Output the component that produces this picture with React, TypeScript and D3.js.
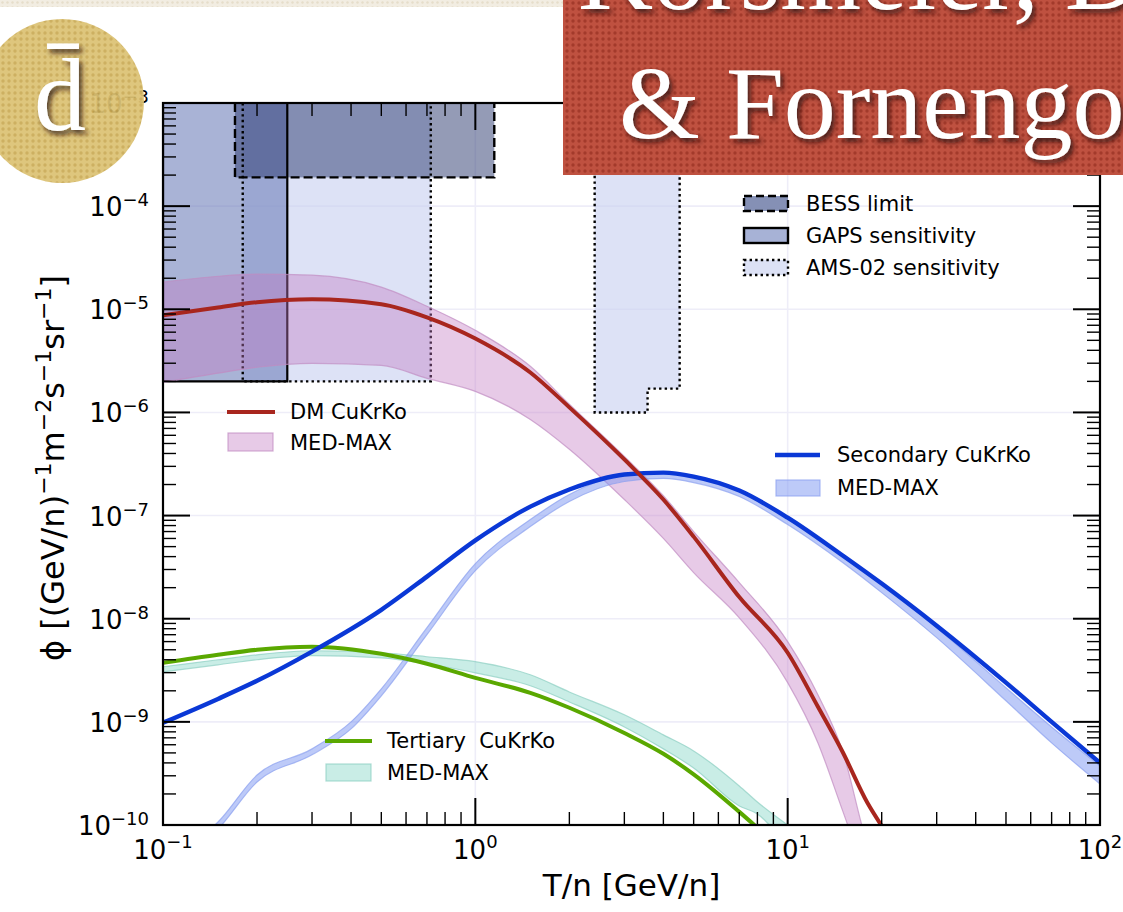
import React from 'react';
import * as d3 from 'd3';

// ---------- data ----------
// kinetic energy per nucleon, GeV/n
const dmT = [0.1, 0.15, 0.2, 0.3, 0.5, 0.7, 1, 1.5, 2, 3, 4, 5, 7, 10, 12.5, 15, 18, 20];
// DM (CuKrKo) antideuteron flux and its MED-MAX propagation band
const dmFlux = [8.75e-6, 1.04e-5, 1.17e-5, 1.25e-5, 1.12e-5, 8.35e-6, 5.2e-6, 2.44e-6, 1.12e-6, 3.5e-7, 1.43e-7, 6.25e-8, 1.62e-8, 4.68e-9, 1.4e-9, 5.1e-10, 1.64e-10, 9.8e-11];
const dmHigh = [1.83e-5, 2.09e-5, 2.19e-5, 2.14e-5, 1.64e-5, 1.07e-5, 6.25e-6, 2.8e-6, 1.2e-6, 3.74e-7, 1.56e-7, 7e-8, 2.24e-8, 6e-9, 1.83e-9, 5.2e-10, 6.5e-11, 3e-11];
const dmLow = [1.95e-6, 2.4e-6, 2.74e-6, 2.99e-6, 2.86e-6, 2.14e-6, 1.6e-6, 8.55e-7, 4.4e-7, 1.43e-7, 6e-8, 2.8e-8, 1.02e-8, 2.4e-9, 6.25e-10, 1.37e-10, 3e-11, 1.5e-11];

// secondary flux
const secT = [0.1, 0.15, 0.2, 0.3, 0.5, 0.7, 1, 1.5, 2, 3, 4, 5, 7, 10, 15, 20, 30, 50, 70, 100];
const secFlux = [9.8e-10, 1.67e-9, 2.5e-9, 4.8e-9, 1.22e-8, 2.56e-8, 5.75e-8, 1.22e-7, 1.79e-7, 2.5e-7, 2.61e-7, 2.39e-7, 1.75e-7, 9.55e-8, 4.1e-8, 2.19e-8, 8.55e-9, 2.4e-9, 1.0e-9, 4.0e-10];
const secBandT = [0.1, 0.15, 0.2, 0.3, 0.4, 0.5, 0.7, 1, 1.5, 2, 3, 4, 5, 7, 10, 15, 20, 30, 50, 70, 100];
const secHigh = [4.57e-11, 1.07e-10, 3.05e-10, 5.47e-10, 1.0e-9, 2.09e-9, 8.18e-9, 3.42e-8, 9.14e-8, 1.6e-7, 2.5e-7, 2.67e-7, 2.44e-7, 1.79e-7, 9.57e-8, 4.09e-8, 2.14e-8, 8.18e-9, 2.14e-9, 8.93e-10, 3.74e-10];
const secLow = [3.8e-11, 9.14e-11, 2.61e-10, 4.79e-10, 8.55e-10, 1.79e-9, 7.0e-9, 2.92e-8, 7.82e-8, 1.37e-7, 2.14e-7, 2.29e-7, 2.09e-7, 1.53e-7, 8.18e-8, 3.5e-8, 1.79e-8, 6.55e-9, 1.6e-9, 6.25e-10, 2.5e-10];

// tertiary flux
const terT = [0.1, 0.15, 0.2, 0.3, 0.5, 0.7, 1, 1.5, 2, 3, 4, 5, 7, 8];
const terFlux = [3.74e-9, 4.47e-9, 5.0e-9, 5.35e-9, 4.57e-9, 3.66e-9, 2.67e-9, 1.91e-9, 1.37e-9, 7.8e-10, 4.9e-10, 3.1e-10, 1.34e-10, 9.4e-11];
const terBandT = [0.1, 0.15, 0.2, 0.3, 0.5, 0.7, 1, 1.5, 2, 3, 4, 5, 7, 8, 10];
const terHigh = [3.42e-9, 4.0e-9, 4.47e-9, 4.89e-9, 4.68e-9, 4.28e-9, 3.83e-9, 2.86e-9, 1.95e-9, 1.17e-9, 7.48e-10, 5.23e-10, 2.39e-10, 1.67e-10, 1.0e-10];
const terLow = [3.05e-9, 3.57e-9, 4.0e-9, 4.38e-9, 4.18e-9, 3.66e-9, 2.99e-9, 2.24e-9, 1.56e-9, 8.93e-10, 5.47e-10, 3.57e-10, 1.53e-10, 1.28e-10, 6e-11];

// experimental limits / sensitivities: [Tmin, Tmax, flux]
const bessLimit = [[0.17, 1.15, 1.9e-4]];
const gapsSens = [[0.1, 0.25, 2.0e-6]];
const amsLowBox = [0.18, 0.72, 2.0e-6];
const amsHighSteps = [[2.41, 3.56, 1.0e-6], [3.56, 4.51, 1.7e-6]];

const xMajor = [0.1, 1, 10, 100];
const xMajorExp = ['\u22121', '0', '1', '2'];
const yMajorExp = [-10, -9, -8, -7, -6, -5, -4, -3];

// ---------- layout ----------
const W = 1123;
const H = 912;
const L = 163, R = 1100, T0 = 103, B = 825;

const x = d3.scaleLog().domain([0.1, 100]).range([L, R]);
const y = d3.scaleLog().domain([1e-10, 1e-3]).range([B, T0]);

const zip = (ts: number[], vs: number[]) => ts.map((t, i) => [t, vs[i]] as [number, number]);
const zip3 = (ts: number[], lo: number[], hi: number[]) =>
  ts.map((t, i) => [t, lo[i], hi[i]] as [number, number, number]);

const curve = d3.curveMonotoneX;

const lineGen = d3
  .line<[number, number]>()
  .x((d) => x(d[0]))
  .y((d) => y(d[1]))
  .curve(curve);

const areaGen = d3
  .area<[number, number, number]>()
  .x((d) => x(d[0]))
  .y0((d) => y(d[1]))
  .y1((d) => y(d[2]))
  .curve(curve);

const edgeGen = (idx: 1 | 2) =>
  d3
    .line<[number, number, number]>()
    .x((d) => x(d[0]))
    .y((d) => y(d[idx]))
    .curve(curve);

const minorX: number[] = [];
for (let e = -1; e < 2; e++) for (let k = 2; k <= 9; k++) minorX.push(k * Math.pow(10, e));
const minorY: number[] = [];
for (let e = -10; e < -3; e++) for (let k = 2; k <= 9; k++) minorY.push(k * Math.pow(10, e));

const FONT = 'DejaVu Sans, sans-serif';
const SERIF = 'Liberation Serif, DejaVu Serif, serif';

const RED = '#a8261e';
const BLUE = '#0a38d6';
const GREEN = '#5aa800';

function Band({ data, fill, edge, op }: { data: [number, number, number][]; fill: string; edge: string; op: number }) {
  return (
    <g>
      <path d={areaGen(data) || ''} fill={fill} fillOpacity={op} stroke="none" />
      <path d={edgeGen(1)(data) || ''} fill="none" stroke={edge} strokeWidth={1.2} strokeOpacity={0.7} />
      <path d={edgeGen(2)(data) || ''} fill="none" stroke={edge} strokeWidth={1.2} strokeOpacity={0.7} />
    </g>
  );
}

export default function App() {
  const dmBand = zip3(dmT, dmLow, dmHigh);
  const secBand = zip3(secBandT, secLow, secHigh);
  const terBand = zip3(terBandT, terLow, terHigh);

  const boxTop = y(1e-3);

  // AMS-02 high-energy region outline (stepped bottom)
  const [s1, s2] = amsHighSteps;
  const amsHighPath =
    `M${x(s1[0])},${boxTop} L${x(s1[0])},${y(s1[2])} L${x(s1[1])},${y(s1[2])} ` +
    `L${x(s2[0])},${y(s2[2])} L${x(s2[1])},${y(s2[2])} L${x(s2[1])},${boxTop}`;

  const sup = (s: string, key: string) => (
    <tspan key={key} fontSize={22} dy={-13}>
      {s}
    </tspan>
  );
  const base = (s: string, key: string) => (
    <tspan key={key} dy={13}>
      {s}
    </tspan>
  );

  return (
    <svg
      width={W}
      height={H}
      viewBox={`0 0 ${W} ${H}`}
      style={{ position: 'absolute', left: 0, top: 0, background: '#fff' }}
      fontFamily={FONT}
    >
      <defs>
        <clipPath id="plot">
          <rect x={L} y={T0} width={R - L} height={B - T0} />
        </clipPath>
        <pattern id="redDots" width={6} height={6} patternUnits="userSpaceOnUse">
          <rect width={6} height={6} fill="#bf5140" />
          <circle cx={3} cy={3} r={1.7} fill="#a33a2b" />
        </pattern>
        <pattern id="goldDots" width={6} height={6} patternUnits="userSpaceOnUse">
          <rect width={6} height={6} fill="#dcc273" />
          <circle cx={3} cy={3} r={1.7} fill="#c9aa55" />
        </pattern>
        <pattern id="beige" width={5} height={5} patternUnits="userSpaceOnUse">
          <rect width={5} height={5} fill="#f2ede2" />
          <circle cx={2.5} cy={2.5} r={1.2} fill="#e6ddca" />
        </pattern>
        <filter id="shadow" x="-20%" y="-20%" width="140%" height="140%">
          <feDropShadow dx={3} dy={4} stdDeviation={2.5} floodColor="#2a0f08" floodOpacity={0.75} />
        </filter>
      </defs>

      <rect x={0} y={0} width={W} height={H} fill="#fff" />

      {/* grid */}
      <g stroke="#eeedf8" strokeWidth={1.6}>
        {xMajor.map((v) => (
          <line key={'gx' + v} x1={x(v)} x2={x(v)} y1={T0} y2={B} />
        ))}
        {yMajorExp.map((e) => (
          <line key={'gy' + e} x1={L} x2={R} y1={y(Math.pow(10, e))} y2={y(Math.pow(10, e))} />
        ))}
      </g>

      <g clipPath="url(#plot)">
        {/* AMS-02 sensitivity */}
        <rect
          x={x(amsLowBox[0])}
          y={boxTop}
          width={x(amsLowBox[1]) - x(amsLowBox[0])}
          height={y(amsLowBox[2]) - boxTop}
          fill="#c8d0f0"
          fillOpacity={0.62}
        />
        <path d={amsHighPath + ' Z'} fill="#c8d0f0" fillOpacity={0.62} stroke="none" />

        {/* GAPS sensitivity */}
        {gapsSens.map((g, i) => (
          <rect
            key={'g' + i}
            x={x(g[0])}
            y={boxTop}
            width={x(g[1]) - x(g[0])}
            height={y(g[2]) - boxTop}
            fill="#6a7cb8"
            fillOpacity={0.58}
          />
        ))}

        {/* BESS limit */}
        {bessLimit.map((b, i) => (
          <rect
            key={'b' + i}
            x={x(b[0])}
            y={boxTop}
            width={x(b[1]) - x(b[0])}
            height={y(b[2]) - boxTop}
            fill="#29386e"
            fillOpacity={0.5}
          />
        ))}

        {/* outlines */}
        <path
          d={`M${x(amsLowBox[0])},${boxTop} V${y(amsLowBox[2])} H${x(amsLowBox[1])} V${boxTop}`}
          fill="none"
          stroke="#000"
          strokeWidth={2.4}
          strokeDasharray="2.4 3.2"
        />
        <path d={amsHighPath} fill="none" stroke="#000" strokeWidth={2.4} strokeDasharray="2.4 3.2" />
        {gapsSens.map((g, i) => (
          <path
            key={'go' + i}
            d={`M${x(g[0])},${boxTop} V${y(g[2])} H${x(g[1])} V${boxTop}`}
            fill="none"
            stroke="#000"
            strokeWidth={2.2}
          />
        ))}
        {bessLimit.map((b, i) => (
          <path
            key={'bo' + i}
            d={`M${x(b[0])},${boxTop} V${y(b[2])} H${x(b[1])} V${boxTop}`}
            fill="none"
            stroke="#000"
            strokeWidth={2.4}
            strokeDasharray="9 4"
          />
        ))}

        {/* MED-MAX bands */}
        <Band data={dmBand} fill="#c27ac4" edge="#c08cc2" op={0.4} />
        <Band data={terBand} fill="#7fd3c3" edge="#8ccfc2" op={0.42} />
        <Band data={secBand} fill="#7c95f2" edge="#8aa0f0" op={0.5} />

        {/* CuKrKo fluxes */}
        <path d={lineGen(zip(terT, terFlux)) || ''} fill="none" stroke={GREEN} strokeWidth={4} />
        <path d={lineGen(zip(secT, secFlux)) || ''} fill="none" stroke={BLUE} strokeWidth={4.4} />
        <path d={lineGen(zip(dmT, dmFlux)) || ''} fill="none" stroke={RED} strokeWidth={4} />
      </g>

      {/* frame */}
      <rect x={L} y={T0} width={R - L} height={B - T0} fill="none" stroke="#000" strokeWidth={2.2} />

      {/* ticks */}
      <g stroke="#000">
        {xMajor.map((v) => (
          <g key={'tx' + v} strokeWidth={2}>
            <line x1={x(v)} x2={x(v)} y1={B} y2={B - 27} />
            <line x1={x(v)} x2={x(v)} y1={T0} y2={T0 + 27} />
          </g>
        ))}
        {minorX.map((v) => (
          <g key={'mx' + v} strokeWidth={1.4}>
            <line x1={x(v)} x2={x(v)} y1={B} y2={B - 13} />
            <line x1={x(v)} x2={x(v)} y1={T0} y2={T0 + 13} />
          </g>
        ))}
        {yMajorExp.map((e) => (
          <g key={'ty' + e} strokeWidth={2}>
            <line x1={L} x2={L + 27} y1={y(Math.pow(10, e))} y2={y(Math.pow(10, e))} />
            <line x1={R} x2={R - 27} y1={y(Math.pow(10, e))} y2={y(Math.pow(10, e))} />
          </g>
        ))}
        {minorY.map((v) => (
          <g key={'my' + v} strokeWidth={1.4}>
            <line x1={L} x2={L + 13} y1={y(v)} y2={y(v)} />
            <line x1={R} x2={R - 13} y1={y(v)} y2={y(v)} />
          </g>
        ))}
      </g>

      {/* tick labels */}
      <g fill="#000" fontSize={26}>
        {xMajor.map((v, i) => (
          <text key={'lx' + v} x={x(v)} y={859} textAnchor="middle">
            10<tspan fontSize={18} dy={-11}>{xMajorExp[i]}</tspan>
          </text>
        ))}
        {yMajorExp.map((e) => (
          <text key={'ly' + e} x={149} y={y(Math.pow(10, e)) + 10} textAnchor="end">
            10<tspan fontSize={18} dy={-10}>{'\u2212' + Math.abs(e)}</tspan>
          </text>
        ))}
      </g>

      {/* axis titles */}
      <text x={(L + R) / 2} y={896} textAnchor="middle" fontSize={31}>
        T/n [GeV/n]
      </text>
      <text transform="translate(64,468) rotate(-90)" textAnchor="middle" fontSize={32}>
        {'\u03d5 [(GeV/n)'}
        {sup('\u22121', 'a')}
        {base('m', 'b')}
        {sup('\u22122', 'c')}
        {base('s', 'd')}
        {sup('\u22121', 'e')}
        {base('sr', 'f')}
        {sup('\u22121', 'g')}
        {base(']', 'h')}
      </text>

      {/* legend: experiments */}
      <g fontSize={21} fill="#000">
        <rect x={744} y={196} width={44} height={15} fill="#8590b5" stroke="#000" strokeWidth={2.4} strokeDasharray="8 4" />
        <text x={806} y={211}>BESS limit</text>
        <rect x={744} y={228} width={44} height={15} fill="#a7b2d6" stroke="#000" strokeWidth={2.4} />
        <text x={806} y={243}>GAPS sensitivity</text>
        <rect x={744} y={260} width={44} height={15} fill="#dce1f5" stroke="#000" strokeWidth={2.4} strokeDasharray="2.4 3.2" />
        <text x={806} y={275}>AMS-02 sensitivity</text>
      </g>

      {/* legend: DM */}
      <g fontSize={21} fill="#000">
        <line x1={227} x2={275} y1={412} y2={412} stroke={RED} strokeWidth={4} />
        <text x={290} y={419}>DM CuKrKo</text>
        <rect x={228} y={433} width={45} height={18} fill="#c27ac4" fillOpacity={0.4} stroke="#c08cc2" strokeOpacity={0.7} strokeWidth={1.2} />
        <text x={290} y={450}>MED-MAX</text>
      </g>

      {/* legend: secondary */}
      <g fontSize={21} fill="#000">
        <line x1={775} x2={820} y1={455} y2={455} stroke={BLUE} strokeWidth={4.4} />
        <text x={837} y={462}>Secondary CuKrKo</text>
        <rect x={776} y={480} width={44} height={16} fill="#7c95f2" fillOpacity={0.5} stroke="#8aa0f0" strokeOpacity={0.7} strokeWidth={1.2} />
        <text x={837} y={495}>MED-MAX</text>
      </g>

      {/* legend: tertiary */}
      <g fontSize={21} fill="#000">
        <line x1={325} x2={372} y1={741} y2={741} stroke={GREEN} strokeWidth={4} />
        <text x={387} y={748} style={{ whiteSpace: 'pre' }}>Tertiary  CuKrKo</text>
        <rect x={326} y={764} width={45} height={17} fill="#7fd3c3" fillOpacity={0.42} stroke="#8ccfc2" strokeOpacity={0.7} strokeWidth={1.2} />
        <text x={387} y={780}>MED-MAX</text>
      </g>

      {/* top decorative band */}
      <rect x={0} y={0} width={563} height={7} fill="url(#beige)" />

      {/* antideuteron badge */}
      <g>
        <circle cx={62} cy={101} r={82} fill="url(#goldDots)" opacity={0.93} />
        <text
          x={60}
          y={130}
          textAnchor="middle"
          fontFamily={SERIF}
          fontSize={104}
          fill="#fff"
          filter="url(#shadow)"
        >
          {'d\u0304'}
        </text>
      </g>

      {/* authors banner */}
      <g>
        <rect x={563} y={0} width={W - 563} height={175} fill="url(#redDots)" />
        <g fontFamily={SERIF} fontSize={104} fill="#fff" filter="url(#shadow)">
          <text x={578} y={9}>Korsmeier, Donato</text>
          <text x={619} y={138}>&amp; Fornengo</text>
        </g>
      </g>
    </svg>
  );
}
